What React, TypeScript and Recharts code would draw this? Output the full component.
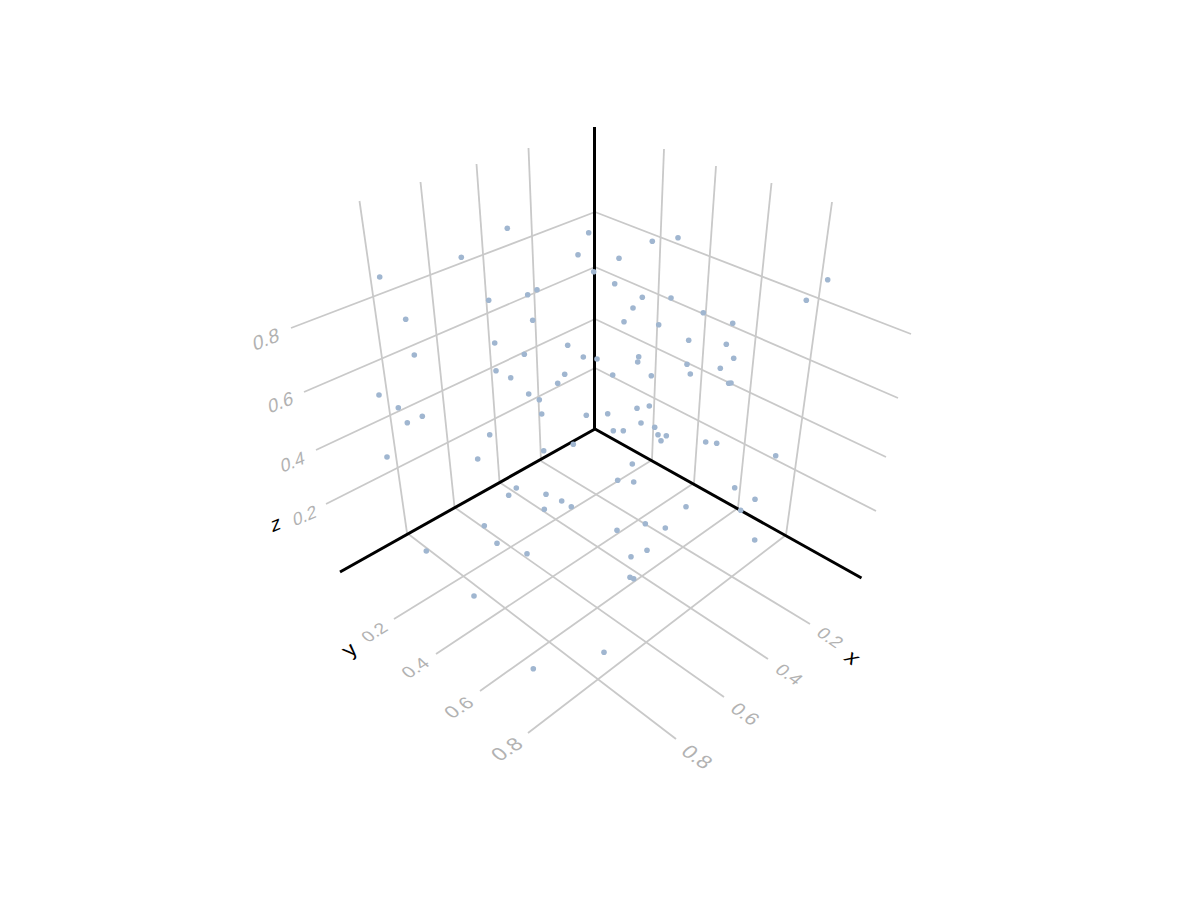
import { ScatterChart, Scatter, XAxis, YAxis, ReferenceLine } from "recharts";

const pointX = [
  379.7, 461.3, 507.3, 588.7, 578, 593.7, 537, 527.7, 488.7, 405.7, 532.7, 494.7, 414.3, 524.3, 567.7, 583.3, 597,
  652.3, 678, 619, 614.7, 642.3, 671, 633, 624, 658.7, 703.3, 732.7, 806.3, 827.7, 688.7, 726.3, 733.7, 638.7,
  496, 510.7, 564.7, 557.7, 528.7, 539.3, 379, 398.3, 422.3, 407.3, 541.7, 586.3, 489.7, 387, 477.7, 543.7, 573.3,
  516.3, 508.7, 546, 561.7, 571.3, 544.3, 484.3, 497, 527, 426.3,
  637.7, 687, 720.3, 612.7, 651.3, 690.3, 728.7, 731, 649.3, 637, 607.7, 641, 654.7, 613.3, 623.3, 666.3, 658, 661,
  705.7, 716.7, 775.7, 632.3, 617.7, 633.7, 734.7, 755, 686, 740.7, 645.3, 665.3, 617, 754.7, 647, 631, 630, 633.7,
  474, 533.3, 604,
];
const pointY = [
  277, 257.3, 228.3, 232.7, 254.7, 271.7, 289.7, 294.7, 300.3, 319.3, 320.3, 343, 355, 354.3, 345.3, 357, 359,
  241.3, 237.7, 258.3, 283.7, 297.3, 298, 308, 321.7, 324.7, 312.7, 323.3, 300.3, 279.7, 340.3, 344.3, 358.3, 356.7,
  370.7, 377.7, 374.3, 383.3, 394, 399.7, 395, 407.7, 416.3, 422.7, 414, 415.3, 434.7, 457, 459, 450.7, 444.3,
  488, 495.3, 494.3, 501, 506.7, 509.3, 525.7, 543.3, 553.7, 551,
  362, 364.3, 368.3, 375, 375.7, 374, 383.3, 383, 406, 408.3, 413.7, 423, 427.3, 430.7, 430.7, 435.7, 434.7, 440.7,
  442, 443.3, 455.7, 464, 480.3, 482, 487.7, 499.3, 506.7, 510.3, 523.7, 528, 530.3, 540, 550.3, 556.7, 577.3, 578.7,
  596, 668.7, 652.3,
];

const tickLabels = ["0.2", "0.4", "0.6", "0.8"];
const axisNames = ["x", "y", "z"];

// grid segments on the two walls and the floor: [x1, y1, x2, y2]
const wallLines = [
  [291, 328, 595, 212], [304, 392, 595, 267], [316, 450, 595, 319], [326, 504, 595, 368],
  [595, 212, 911, 334], [595, 267, 898, 398], [595, 319, 886, 457], [595, 368, 876, 511],
  [359.5, 201, 407, 533], [420.5, 182, 454.5, 507], [476.5, 164, 499.5, 482], [528.5, 148, 541, 461],
  [664, 149, 652, 460], [716, 166, 694, 483], [771.5, 183, 738, 508], [832, 202, 786, 535],
];
const floorLines = [
  [407, 533, 676, 739], [454, 507, 724, 697], [499, 482, 768, 659], [541, 461, 810, 624],
  [652, 460, 394, 619], [694, 483, 436, 654], [738, 508, 480, 691], [786, 535, 528, 733],
];
const axisLines = [
  [594.5, 127, 594.5, 429], [595, 429, 340, 572], [595, 429, 861.5, 578],
];

// label anchors follow the tick order above
const zSpots = [[304.7, 515.7, 18], [292.7, 461.7, 18.5], [280.7, 402.3, 19], [266, 339, 20]];
const ySpots = [[374.3, 632.3, 17.5], [415, 667.7, 18.5], [458.7, 707.3, 19.5], [506.7, 749, 21]];
const xSpots = [[830, 637.7, 18], [789.3, 674.3, 18.5], [745.3, 713.7, 19.5], [697.3, 756.7, 21]];

// text basis on each plane: baseline direction, then glyph "down" direction
const zBasis = [0.92, -0.38, 0.12, 1.0];
const yBasis = [0.86, -0.55, 0.72, 0.66];
const xBasis = [0.84, 0.58, -0.72, 0.66];

const points = pointX.map((x, i) => ({ x, y: pointY[i] }));

const makeLabels = (spots: number[][], basis: number[]) =>
  spots.map(([x, y, em], i) => ({ x, y, em, basis, text: tickLabels[i], fill: "#b2b2b2" }));

const labels = [
  ...makeLabels(zSpots, zBasis),
  ...makeLabels(ySpots, yBasis),
  ...makeLabels(xSpots, xBasis),
  { x: 852.7, y: 657.5, em: 22, basis: xBasis, text: axisNames[0], fill: "#000" },
  { x: 349, y: 649.5, em: 22, basis: yBasis, text: axisNames[1], fill: "#000" },
  { x: 275.7, y: 523.5, em: 20, basis: zBasis, text: axisNames[2], fill: "#000" },
];

const Dot = (props: any) => <circle cx={props.cx} cy={props.cy} r={2.8} fill="#a0b6d0" />;

const PlaneText = (props: any) => {
  const { cx, cy, payload } = props;
  const [a, b, c, d] = payload.basis;
  const s = payload.em / 10;
  return (
    <text
      transform={`matrix(${a * s} ${b * s} ${c * s} ${d * s} ${cx} ${cy})`}
      fontSize={10}
      fontFamily="Liberation Sans"
      textAnchor="middle"
      dominantBaseline="central"
      fill={payload.fill}
      opacity={0.999}
    >
      {payload.text}
    </text>
  );
};

const drawSegments = (lines: number[][], stroke: string, width: number, tag: string) =>
  lines.map(([x1, y1, x2, y2], i) => (
    <ReferenceLine
      key={tag + i}
      segment={[{ x: x1, y: y1 }, { x: x2, y: y2 }]}
      stroke={stroke}
      strokeWidth={width}
    />
  ));

export default function App() {
  return (
    <div style={{ position: "absolute", left: 0, top: 0, width: 1200, height: 900, background: "#fff" }}>
      <ScatterChart width={1200} height={900} margin={{ top: 0, right: 0, bottom: 0, left: 0 }}>
        <XAxis type="number" dataKey="x" domain={[0, 1200]} hide />
        <YAxis type="number" dataKey="y" domain={[0, 900]} reversed hide />
        {drawSegments(wallLines, "#c9c9c9", 1.8, "wall")}
        {drawSegments(floorLines, "#c9c9c9", 1.8, "floor")}
        {drawSegments(axisLines, "#000", 3, "axis")}
        <Scatter data={labels} shape={PlaneText} isAnimationActive={false} />
        <Scatter data={points} shape={Dot} isAnimationActive={false} />
      </ScatterChart>
    </div>
  );
}
